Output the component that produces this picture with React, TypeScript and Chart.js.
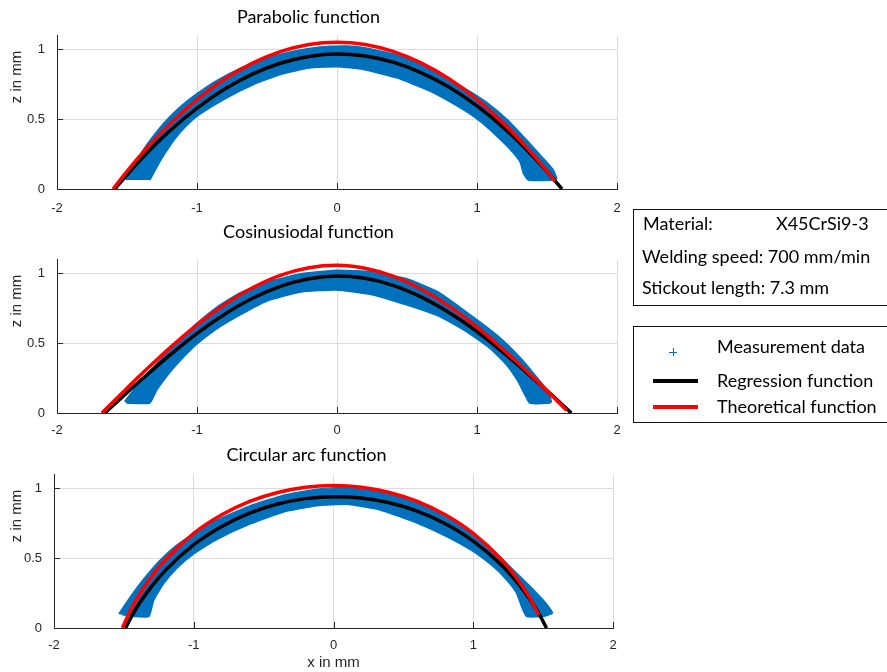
import React, { useEffect, useRef } from 'react';
import { Chart, registerables } from 'chart.js';

Chart.register(...registerables);

type Pt = [number, number];

// ---------- axes ----------
const xTicks = [-2, -1, 0, 1, 2];
const yTicks = [0, 0.5, 1];
const xMin = -2;
const xMax = 2;
const yMin = 0;
const yMax = 1.1;

const plotTitles = ['Parabolic function', 'Cosinusiodal function', 'Circular arc function'];
const xAxisTitle = 'x in mm';
const yAxisTitle = 'z in mm';

const legendLabels = ['Measurement data', 'Regression function', 'Theoretical function'];
const infoMaterialLabel = 'Material:';
const infoMaterialValue = 'X45CrSi9-3';
const infoSpeed = 'Welding speed: 700 mm/min';
const infoStickout = 'Stickout length: 7.3 mm';

// ---------- Parabolic ----------
const parabRegX = [-1.586, -1.5, -1.4, -1.2, -1.0, -0.8, -0.6, -0.4, -0.2, 0, 0.2, 0.4, 0.6, 0.8, 1.0, 1.2, 1.4, 1.5, 1.607];
const parabRegZ = [0, 0.102, 0.213, 0.411, 0.579, 0.717, 0.824, 0.901, 0.948, 0.965, 0.951, 0.907, 0.833, 0.729, 0.594, 0.429, 0.234, 0.125, 0];
const parabTheoX = [-1.6, -1.5, -1.4, -1.2, -1.0, -0.8, -0.6, -0.4, -0.2, 0, 0.2, 0.4, 0.6, 0.8, 1.0, 1.2, 1.4, 1.5, 1.557];
const parabTheoZ = [0, 0.127, 0.246, 0.459, 0.64, 0.788, 0.902, 0.984, 1.034, 1.05, 1.034, 0.984, 0.902, 0.788, 0.64, 0.459, 0.246, 0.127, 0.056];
const parabBandUpper: Pt[] = [
  [-1.507, 0.064], [-1.467, 0.145], [-1.419, 0.225], [-1.36, 0.315], [-1.288, 0.41], [-1.205, 0.505], [-1.11, 0.597],
  [-1.003, 0.68], [-0.86, 0.775], [-0.693, 0.862], [-0.503, 0.935], [-0.312, 0.985], [-0.121, 1.015], [0.069, 1.022],
  [0.188, 1.012], [0.426, 0.96], [0.664, 0.865], [0.902, 0.727], [1.069, 0.62], [1.212, 0.5], [1.355, 0.35],
  [1.474, 0.219], [1.545, 0.136], [1.569, 0.076], [1.557, 0.064],
];
const parabBandLower: Pt[] = [
  [1.367, 0.064], [1.331, 0.112], [1.307, 0.195], [1.236, 0.285], [1.14, 0.38], [1.021, 0.485], [0.902, 0.568],
  [0.664, 0.7], [0.426, 0.795], [0.188, 0.855], [0.0, 0.875], [-0.2, 0.865], [-0.4, 0.82], [-0.6, 0.745],
  [-0.8, 0.645], [-0.979, 0.535], [-1.074, 0.455], [-1.157, 0.36], [-1.229, 0.255], [-1.288, 0.155], [-1.336, 0.064],
];

// ---------- Cosinusoidal ----------
const cosRegX = [-1.658, -1.5, -1.4, -1.2, -1.0, -0.8, -0.6, -0.4, -0.2, 0, 0.2, 0.4, 0.6, 0.8, 1.0, 1.2, 1.4, 1.5, 1.674];
const cosRegZ = [0, 0.146, 0.236, 0.409, 0.57, 0.709, 0.823, 0.908, 0.961, 0.98, 0.964, 0.914, 0.831, 0.719, 0.582, 0.423, 0.25, 0.16, 0];
const cosTheoX = [-1.68, -1.5, -1.4, -1.2, -1.0, -0.8, -0.6, -0.4, -0.2, 0, 0.2, 0.4, 0.6, 0.8, 1.0, 1.2, 1.4, 1.5, 1.64];
const cosTheoZ = [0, 0.178, 0.275, 0.461, 0.631, 0.778, 0.898, 0.987, 1.04, 1.057, 1.036, 0.979, 0.888, 0.765, 0.615, 0.442, 0.256, 0.159, 0.02];
const cosBandUpper: Pt[] = [
  [-1.517, 0.083], [-1.433, 0.19], [-1.338, 0.298], [-1.219, 0.429], [-1.1, 0.545], [-1.004, 0.64], [-0.862, 0.755],
  [-0.695, 0.86], [-0.505, 0.935], [-0.267, 0.995], [-0.005, 1.022], [0.257, 1.01], [0.495, 0.962], [0.733, 0.86],
  [0.996, 0.67], [1.163, 0.54], [1.305, 0.4], [1.424, 0.26], [1.507, 0.155], [1.531, 0.083],
];
const cosBandLower: Pt[] = [
  [1.519, 0.071], [1.376, 0.071], [1.341, 0.131], [1.293, 0.226], [1.21, 0.345], [1.091, 0.464], [0.924, 0.583],
  [0.733, 0.69], [0.495, 0.774], [0.257, 0.845], [-0.005, 0.881], [-0.267, 0.865], [-0.505, 0.8], [-0.695, 0.7],
  [-0.862, 0.6], [-1.004, 0.49], [-1.124, 0.37], [-1.219, 0.26], [-1.29, 0.16], [-1.338, 0.071], [-1.505, 0.071],
];

// ---------- Circular arc ----------
const circRegX = [-1.488, -1.46, -1.42, -1.38, -1.3, -1.2, -1.0, -0.8, -0.6, -0.4, -0.2, 0, 0.2, 0.4, 0.6, 0.8, 1.0, 1.2, 1.3, 1.4, 1.44, 1.48, 1.524];
const circRegZ = [0, 0.055, 0.126, 0.189, 0.3, 0.416, 0.596, 0.727, 0.822, 0.887, 0.926, 0.94, 0.93, 0.896, 0.836, 0.746, 0.622, 0.452, 0.344, 0.213, 0.152, 0.084, 0];
const circTheoX = [-1.51, -1.49, -1.45, -1.4, -1.3, -1.2, -1.0, -0.8, -0.6, -0.4, -0.2, 0, 0.2, 0.4, 0.6, 0.8, 1.0, 1.2, 1.3, 1.4, 1.47];
const circTheoZ = [0, 0.047, 0.132, 0.222, 0.372, 0.492, 0.677, 0.81, 0.906, 0.97, 1.008, 1.02, 1.008, 0.97, 0.906, 0.81, 0.677, 0.492, 0.372, 0.222, 0.091];
const circBandUpper: Pt[] = [
  [-1.535, 0.1], [-1.524, 0.119], [-1.476, 0.19], [-1.417, 0.274], [-1.333, 0.381], [-1.238, 0.488], [-1.119, 0.595],
  [-0.993, 0.679], [-0.833, 0.774], [-0.595, 0.875], [-0.357, 0.95], [-0.119, 0.993], [0.119, 1.01], [0.215, 1.005],
  [0.452, 0.955], [0.69, 0.865], [0.929, 0.73], [1.119, 0.58], [1.262, 0.44], [1.405, 0.3], [1.5, 0.2],
  [1.548, 0.14], [1.567, 0.107],
];
const circBandLower: Pt[] = [
  [1.5, 0.083], [1.381, 0.083], [1.345, 0.155], [1.31, 0.25], [1.238, 0.345], [1.143, 0.44], [1.0, 0.548],
  [0.81, 0.655], [0.571, 0.762], [0.333, 0.845], [0.095, 0.885], [-0.119, 0.875], [-0.357, 0.83], [-0.595, 0.745],
  [-0.833, 0.635], [-0.993, 0.536], [-1.119, 0.43], [-1.214, 0.32], [-1.286, 0.2], [-1.321, 0.083],
  [-1.429, 0.083], [-1.512, 0.095],
];

// ---------- styling / layout ----------
const BLUE = '#0072BD';
const RED = '#ff0000';
const AXIS = '#262626';
const GRID = '#dcdcdc';
const TICK_FONT = '"Liberation Sans", Arial, sans-serif';
const TEXT_FONT = 'Lato, "Open Sans", sans-serif';

interface PlotSpec {
  title: string;
  regX: number[]; regZ: number[];
  theoX: number[]; theoZ: number[];
  upper: Pt[]; lower: Pt[];
  top: number; height: number; yW: number; padR: number; xH: number;
  tTop: number; tBot: number; tickPad: number; showXTitle: boolean; yLabelY: number;
}

const TITLE_SIZE = 18;
const TITLE_LH = TITLE_SIZE * 1.2;

const plots: PlotSpec[] = [
  { title: plotTitles[0], regX: parabRegX, regZ: parabRegZ, theoX: parabTheoX, theoZ: parabTheoZ, upper: parabBandUpper, lower: parabBandLower,
    top: 0, height: 212, yW: 57, padR: 23, xH: 23, tTop: 17.5 - TITLE_LH / 2, tBot: 35.2 - 17.5 - TITLE_LH / 2, tickPad: 12, showXTitle: false, yLabelY: 77 },
  { title: plotTitles[1], regX: cosRegX, regZ: cosRegZ, theoX: cosTheoX, theoZ: cosTheoZ, upper: cosBandUpper, lower: cosBandLower,
    top: 215, height: 221, yW: 57, padR: 23, xH: 23, tTop: 17.5 - TITLE_LH / 2, tBot: 44.3 - 17.5 - TITLE_LH / 2, tickPad: 10, showXTitle: false, yLabelY: 301 },
  { title: plotTitles[2], regX: circRegX, regZ: circRegZ, theoX: circTheoX, theoZ: circTheoZ, upper: circBandUpper, lower: circBandLower,
    top: 438, height: 234, yW: 54, padR: 27, xH: 44, tTop: 17.5 - TITLE_LH / 2, tBot: 36.3 - 17.5 - TITLE_LH / 2, tickPad: 10, showXTitle: true, yLabelY: 516 },
];

const zipXY = (xs: number[], ys: number[]) => xs.map((x, i) => ({ x, y: ys[i] }));

const innerTicks = {
  id: 'innerTicks',
  afterDraw(chart: any) {
    const { ctx, chartArea } = chart;
    const xs = chart.scales.x;
    const ys = chart.scales.y;
    ctx.save();
    ctx.strokeStyle = AXIS;
    ctx.lineWidth = 1;
    ctx.beginPath();
    xTicks.forEach((v) => {
      const px = Math.round(xs.getPixelForValue(v)) + 0.5;
      ctx.moveTo(px, chartArea.bottom);
      ctx.lineTo(px, chartArea.bottom - 6);
    });
    yTicks.forEach((v) => {
      const py = Math.round(ys.getPixelForValue(v)) + 0.5;
      ctx.moveTo(chartArea.left, py);
      ctx.lineTo(chartArea.left + 6, py);
    });
    ctx.stroke();
    ctx.restore();
  },
};

function SubPlot({ spec }: { spec: PlotSpec }) {
  const ref = useRef<HTMLCanvasElement | null>(null);
  useEffect(() => {
    if (!ref.current) return;
    const band = spec.upper.concat(spec.lower).map(([x, y]) => ({ x, y }));
    const chart = new Chart(ref.current, {
      type: 'line',
      data: {
        datasets: [
          {
            label: legendLabels[2], data: zipXY(spec.theoX, spec.theoZ), borderColor: RED, backgroundColor: RED,
            borderWidth: 3.5, pointRadius: 0, cubicInterpolationMode: 'monotone', fill: false, order: 1,
          },
          {
            label: legendLabels[1], data: zipXY(spec.regX, spec.regZ), borderColor: '#000', backgroundColor: '#000',
            borderWidth: 3.5, pointRadius: 0, cubicInterpolationMode: 'monotone', fill: false, order: 2,
          },
          {
            label: legendLabels[0], data: band, borderColor: BLUE, backgroundColor: BLUE,
            borderWidth: 1.5, pointRadius: 0, tension: 0.15, fill: 'shape', order: 3,
          },
        ],
      },
      options: {
        animation: false,
        responsive: false,
        devicePixelRatio: 1,
        layout: { padding: { left: 0, right: spec.padR, top: 0, bottom: 0 } },
        plugins: {
          legend: { display: false },
          tooltip: { enabled: false },
          title: {
            display: true, text: spec.title, color: '#000',
            font: { family: TEXT_FONT, size: TITLE_SIZE, weight: 'normal', lineHeight: 1.2 },
            padding: { top: spec.tTop, bottom: spec.tBot },
          },
        },
        scales: {
          x: {
            type: 'linear', min: xMin, max: xMax,
            afterBuildTicks: (s: any) => { s.ticks = xTicks.map((v) => ({ value: v })); },
            afterFit: (s: any) => { s.height = spec.xH; },
            grid: { color: GRID, lineWidth: 1, drawTicks: false },
            border: { display: true, color: AXIS, width: 1 },
            ticks: {
              color: AXIS, padding: spec.tickPad, maxRotation: 0, autoSkip: false,
              font: { family: TICK_FONT, size: 13 }, callback: (v: any) => String(v),
            },
            title: {
              display: spec.showXTitle, text: xAxisTitle, color: AXIS,
              font: { family: TICK_FONT, size: 15 }, padding: { top: 0, bottom: 0 },
            },
          },
          y: {
            type: 'linear', min: yMin, max: yMax,
            afterBuildTicks: (s: any) => { s.ticks = yTicks.map((v) => ({ value: v })); },
            afterFit: (s: any) => { s.width = spec.yW; },
            grid: { color: GRID, lineWidth: 1, drawTicks: false },
            border: { display: true, color: AXIS, width: 1 },
            ticks: {
              color: AXIS, padding: 12, font: { family: TICK_FONT, size: 13 }, callback: (v: any) => String(v),
            },
          },
        },
      } as any,
      plugins: [innerTicks],
    });
    return () => chart.destroy();
  }, [spec]);
  return (
    <canvas
      ref={ref}
      width={640}
      height={spec.height}
      style={{ position: 'absolute', left: 0, top: spec.top, width: 640, height: spec.height }}
    />
  );
}

const BOX_SIZE = 18;
const textStyle = (left: number, centerY: number): React.CSSProperties => ({
  position: 'absolute', left, top: centerY - 12, height: 22, lineHeight: '22px', fontSize: BOX_SIZE,
  fontFamily: TEXT_FONT, color: '#000', whiteSpace: 'nowrap',
});

export default function App() {
  return (
    <div style={{ position: 'absolute', left: 0, top: 0, width: 887, height: 672, background: '#fff', overflow: 'hidden' }}>
      {plots.map((p, i) => <SubPlot key={i} spec={p} />)}
      {plots.map((p, i) => (
        <div key={'yl' + i} style={{
          position: 'absolute', left: 15, top: p.yLabelY, transform: 'translate(-50%, -50%) rotate(-90deg)',
          fontFamily: TICK_FONT, fontSize: 15, color: AXIS, whiteSpace: 'nowrap',
        }}>{yAxisTitle}</div>
      ))}
      {/* info box */}
      <div style={{ position: 'absolute', left: 633, top: 209, width: 300, height: 95, border: '1.5px solid #111' }} />
      <div style={textStyle(643, 224)}>{infoMaterialLabel}</div>
      <div style={textStyle(776, 224)}>{infoMaterialValue}</div>
      <div style={textStyle(642, 257)}>{infoSpeed}</div>
      <div style={textStyle(642, 288)}>{infoStickout}</div>
      {/* legend box */}
      <div style={{ position: 'absolute', left: 633, top: 326, width: 300, height: 95, border: '1.5px solid #111' }} />
      <div style={{ position: 'absolute', left: 669, top: 351.5, width: 8, height: 1, background: BLUE }} />
      <div style={{ position: 'absolute', left: 672.5, top: 348, width: 1, height: 8, background: BLUE }} />
      <div style={textStyle(717, 347)}>{legendLabels[0]}</div>
      <div style={{ position: 'absolute', left: 653, top: 379, width: 45, height: 4, background: '#000' }} />
      <div style={textStyle(717, 381)}>{legendLabels[1]}</div>
      <div style={{ position: 'absolute', left: 653, top: 405, width: 45, height: 4, background: RED }} />
      <div style={textStyle(717, 407)}>{legendLabels[2]}</div>
    </div>
  );
}
